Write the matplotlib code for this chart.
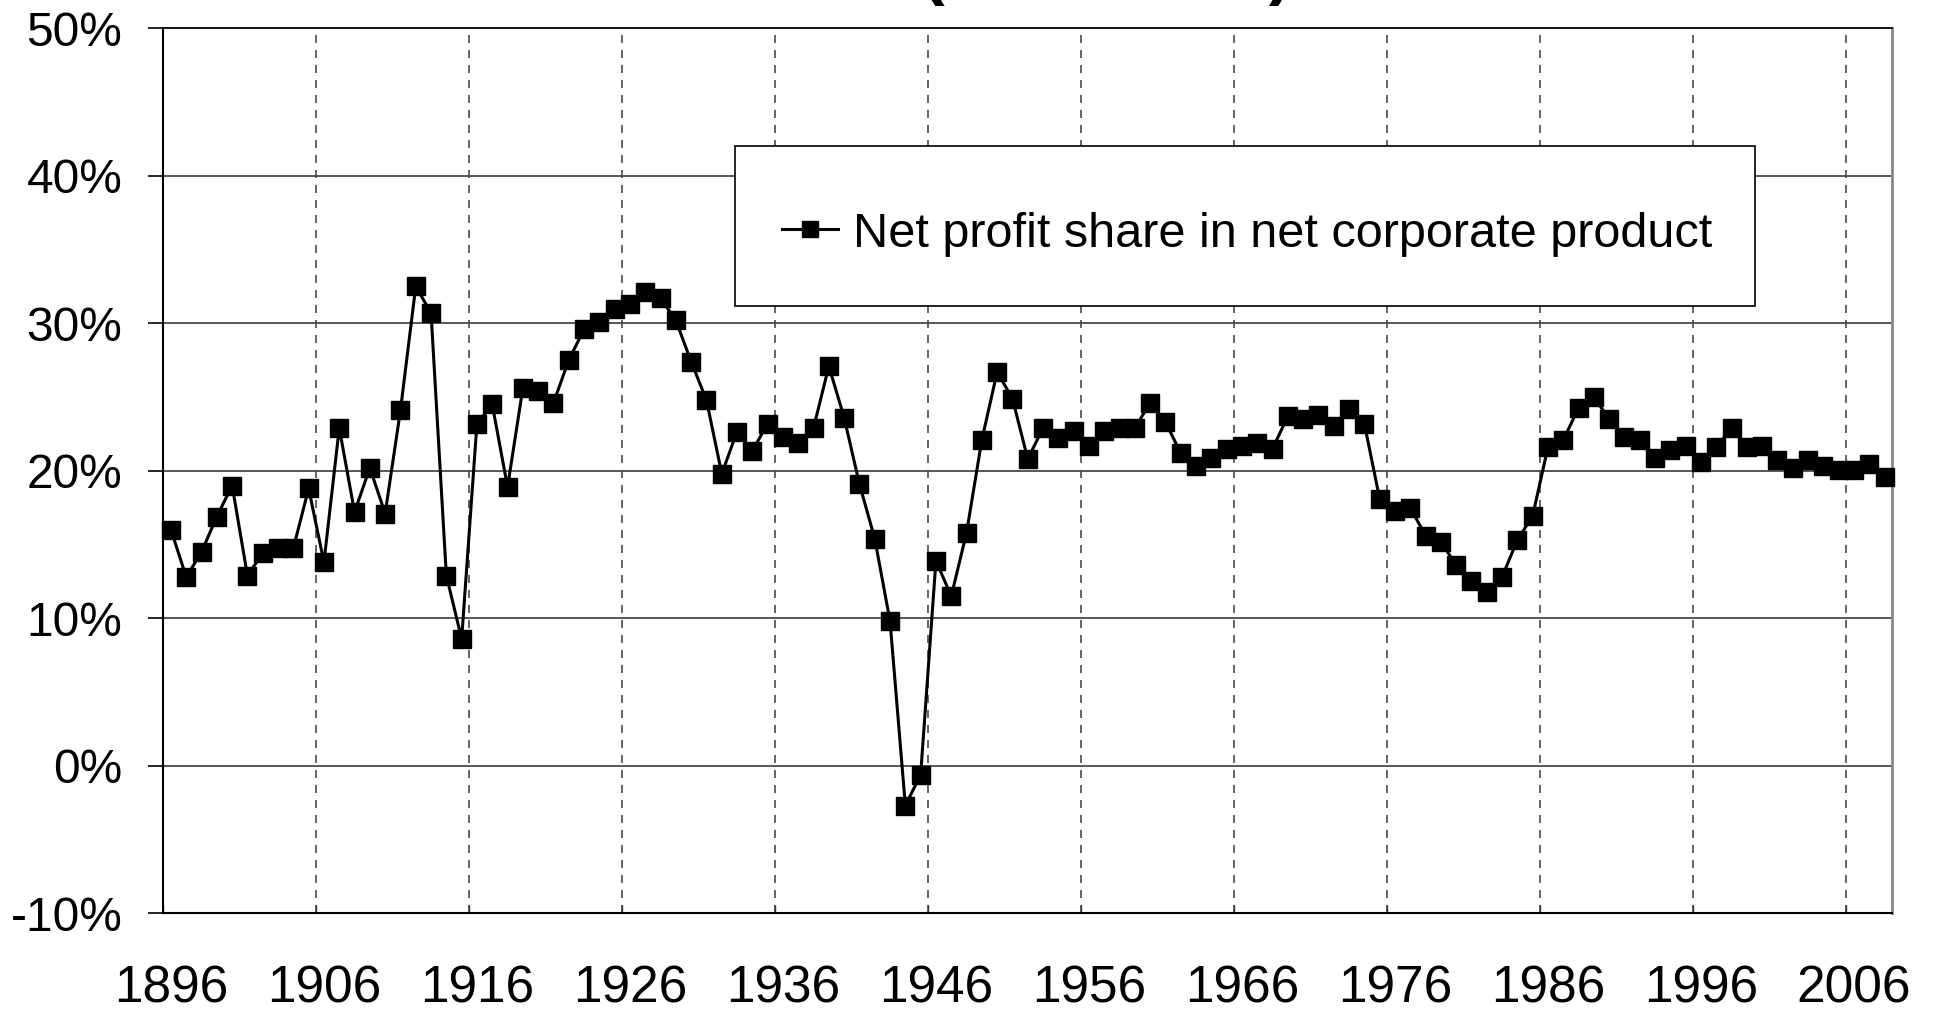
import matplotlib
matplotlib.use("Agg")
import matplotlib.pyplot as plt
from matplotlib.patches import Rectangle
from matplotlib.ticker import FixedLocator, FuncFormatter

plt.rcParams['font.family'] = ['Liberation Sans', 'DejaVu Sans']
plt.rcParams['lines.scale_dashes'] = False

years = list(range(1896, 2009))
profit_share = [
    16.0, 12.8, 14.5, 16.9, 19.0, 12.9, 14.4, 14.8, 14.75, 18.8,   # 1896-1905
    13.8, 22.9, 17.2, 20.2, 17.1, 24.1, 32.5, 30.7, 12.9, 8.6,     # 1906-1915
    23.2, 24.5, 18.9, 25.6, 25.4, 24.6, 27.5, 29.6, 30.1, 31.0,    # 1916-1925
    31.3, 32.1, 31.7, 30.2, 27.4, 24.8, 19.8, 22.65, 21.35, 23.2,  # 1926-1935
    22.3, 21.9, 22.9, 27.1, 23.6, 19.1, 15.4, 9.8, -2.7, -0.6,     # 1936-1945
    13.9, 11.5, 15.8, 22.1, 26.7, 24.9, 20.8, 22.9, 22.2, 22.7,    # 1946-1955
    21.7, 22.7, 22.9, 22.9, 24.6, 23.3, 21.2, 20.3, 20.9, 21.5,    # 1956-1965
    21.7, 21.9, 21.5, 23.7, 23.5, 23.8, 23.05, 24.2, 23.2, 18.1,   # 1966-1975
    17.3, 17.5, 15.6, 15.2, 13.6, 12.5, 11.8, 12.8, 15.3, 16.95,   # 1976-1985
    21.6, 22.1, 24.25, 25.0, 23.5, 22.3, 22.1, 20.9, 21.4, 21.65,  # 1986-1995
    20.6, 21.6, 22.9, 21.6, 21.7, 20.7, 20.2, 20.7, 20.3, 20.07,   # 1996-2005
    20.07, 20.45, 19.6,                                            # 2006-2008
]
tick_years = [1896, 1906, 1916, 1926, 1936, 1946, 1956, 1966, 1976, 1986, 1996, 2006]
y_ticks = [-10, 0, 10, 20, 30, 40, 50]
series_label = "Net profit share in net corporate product"
title_text = "(1896-2008)"

W, H = 1935, 1014
fig = plt.figure(figsize=(W / 100, H / 100), dpi=100)
ax = fig.add_axes([163.3 / W, 1 - 913.3 / H, (1892.2 - 163.3) / W, (913.3 - 28.3) / H])

ax.set_xlim(years[0] - 0.5, years[-1] + 0.5)
ax.set_ylim(y_ticks[0], y_ticks[-1])

# horizontal gridlines
for v in y_ticks[1:-1]:
    ax.axhline(v, color='#2a2a2a', lw=1.1, zorder=1)
# vertical dashed gridlines at category boundaries
for t in tick_years[1:]:
    ax.axvline(t - 0.5, color='#4a4a4a', lw=1.2, dashes=(5.8, 5.0), zorder=1)

ax.plot(years, profit_share, color='black', lw=2.2, marker='s', markersize=12.5,
        markerfacecolor='black', markeredgecolor='black', label=series_label, zorder=3,
        clip_on=False)

# ticks
ax.yaxis.set_major_locator(FixedLocator(y_ticks))
ax.yaxis.set_major_formatter(FuncFormatter(lambda v, p: f"{int(round(v))}%"))
ax.tick_params(axis='y', direction='out', length=11, width=1.2, labelsize=34.5, pad=18.5,
               colors='black')
ax.xaxis.set_major_locator(FixedLocator(tick_years))
ax.xaxis.set_major_formatter(FuncFormatter(lambda v, p: f"{int(round(v))}"))
ax.tick_params(axis='x', which='major', length=0, labelsize=37, pad=37)
ax.xaxis.set_minor_locator(FixedLocator([y - 0.5 for y in tick_years]))
ax.tick_params(axis='x', which='minor', direction='in', length=6, width=1.0, colors='#333333')

for s in ['left', 'bottom']:
    ax.spines[s].set_color('black')
    ax.spines[s].set_linewidth(1.5)
ax.spines['top'].set_color('black')
ax.spines['top'].set_linewidth(1.3)
ax.spines['right'].set_color('#888888')
ax.spines['right'].set_linewidth(2.0)

# legend box
bx0, bx1, by0, by1 = 735, 1755, 146, 306
rect = Rectangle((bx0 / W, 1 - by1 / H), (bx1 - bx0) / W, (by1 - by0) / H,
                 transform=fig.transFigure, facecolor='white', edgecolor='black',
                 lw=1.2, zorder=5)
fig.patches.append(rect)
leg = fig.legend(loc='center', bbox_to_anchor=((bx0 + bx1) / 2 / W + 2 / W, 1 - 234 / H),
                 frameon=False, fontsize=35, handlelength=1.15, handletextpad=0.3,
                 markerscale=1.0)
leg.set_zorder(6)
for h in leg.legend_handles:
    h.set_markersize(12)

# title (cut off at the top of the image, as in the reference)
fig.text(1107 / W, 1 + 8 / H, title_text, ha='center', va='baseline',
         fontsize=49, fontweight='bold')

fig.savefig("out.png", dpi=100)
